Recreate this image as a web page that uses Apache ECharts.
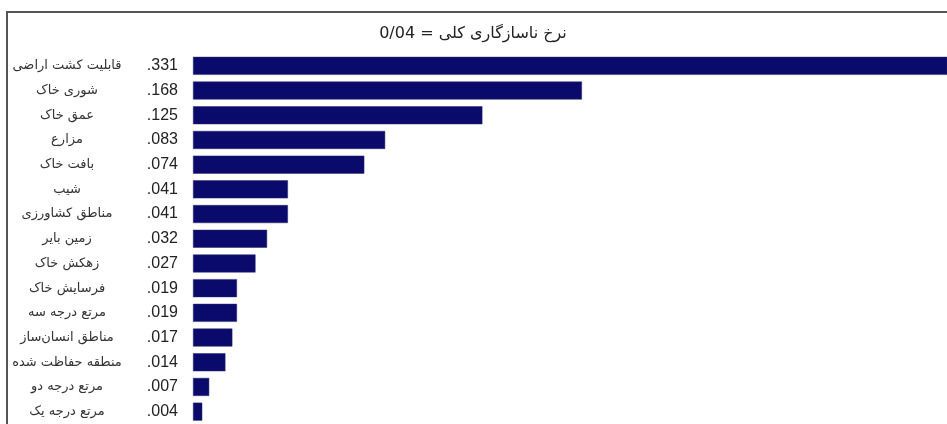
<!DOCTYPE html>
<html>
<head>
<meta charset="utf-8">
<script src="https://cdn.jsdelivr.net/npm/echarts@6/dist/echarts.min.js"></script>
<style>
html,body{margin:0;padding:0;background:#fff;}
#c{width:947px;height:424px;}
</style>
</head>
<body>
<div id="c"></div>
<script>
var titleText = 'نرخ ناسازگاری کلی = 0/04';
var categories = ['قابلیت کشت اراضی','شوری خاک','عمق خاک','مزارع','بافت خاک','شیب','مناطق کشاورزی','زمین بایر','زهکش خاک','فرسایش خاک','مرتع درجه سه','مناطق انسان‌ساز','منطقه حفاظت شده','مرتع درجه دو','مرتع درجه یک'];
var values = [0.331,0.168,0.125,0.083,0.074,0.041,0.041,0.032,0.027,0.019,0.019,0.017,0.014,0.007,0.004];
var valueLabels = ['.331','.168','.125','.083','.074','.041','.041','.032','.027','.019','.019','.017','.014','.007','.004'];

var chart = echarts.init(document.getElementById('c'));
chart.setOption({
  backgroundColor: '#ffffff',
  animation: false,
  title: {
    text: titleText, left: 468, top: 21, textAlign: 'center',
    textStyle: {fontSize: 16, fontWeight: 'normal', color: '#222', fontFamily: 'DejaVu Sans'}
  },
  graphic: [{
    type: 'polyline', silent: true,
    shape: {points: [[7, 430], [7, 12], [960, 12]]},
    style: {stroke: '#555', lineWidth: 2, fill: null}
  }],
  grid: {left: 193, right: 0, top: 53.5, height: 374, containLabel: false},
  xAxis: {type: 'value', min: 0, max: 0.3257, show: false},
  yAxis: [{
    type: 'category', data: categories, inverse: true,
    axisLine: {show: false}, axisTick: {show: false}, splitLine: {show: false},
    axisLabel: {margin: 126, align: 'center', fontSize: 13, color: '#333', fontFamily: 'DejaVu Sans', interval: 0, padding: [3, 0, 0, 0]}
  }, {
    type: 'category', data: valueLabels, inverse: true, position: 'left',
    axisLine: {show: false}, axisTick: {show: false}, splitLine: {show: false},
    axisLabel: {margin: 15, align: 'right', fontSize: 16, color: '#222', fontFamily: '"Liberation Sans", Arial, sans-serif', interval: 0}
  }],
  series: [{
    type: 'bar', data: values, yAxisIndex: 0, barWidth: 18, clip: true,
    itemStyle: {color: '#0a0a6c', borderColor: '#2a2a6a', borderWidth: 0.5}
  }]
});
</script>
</body>
</html>
